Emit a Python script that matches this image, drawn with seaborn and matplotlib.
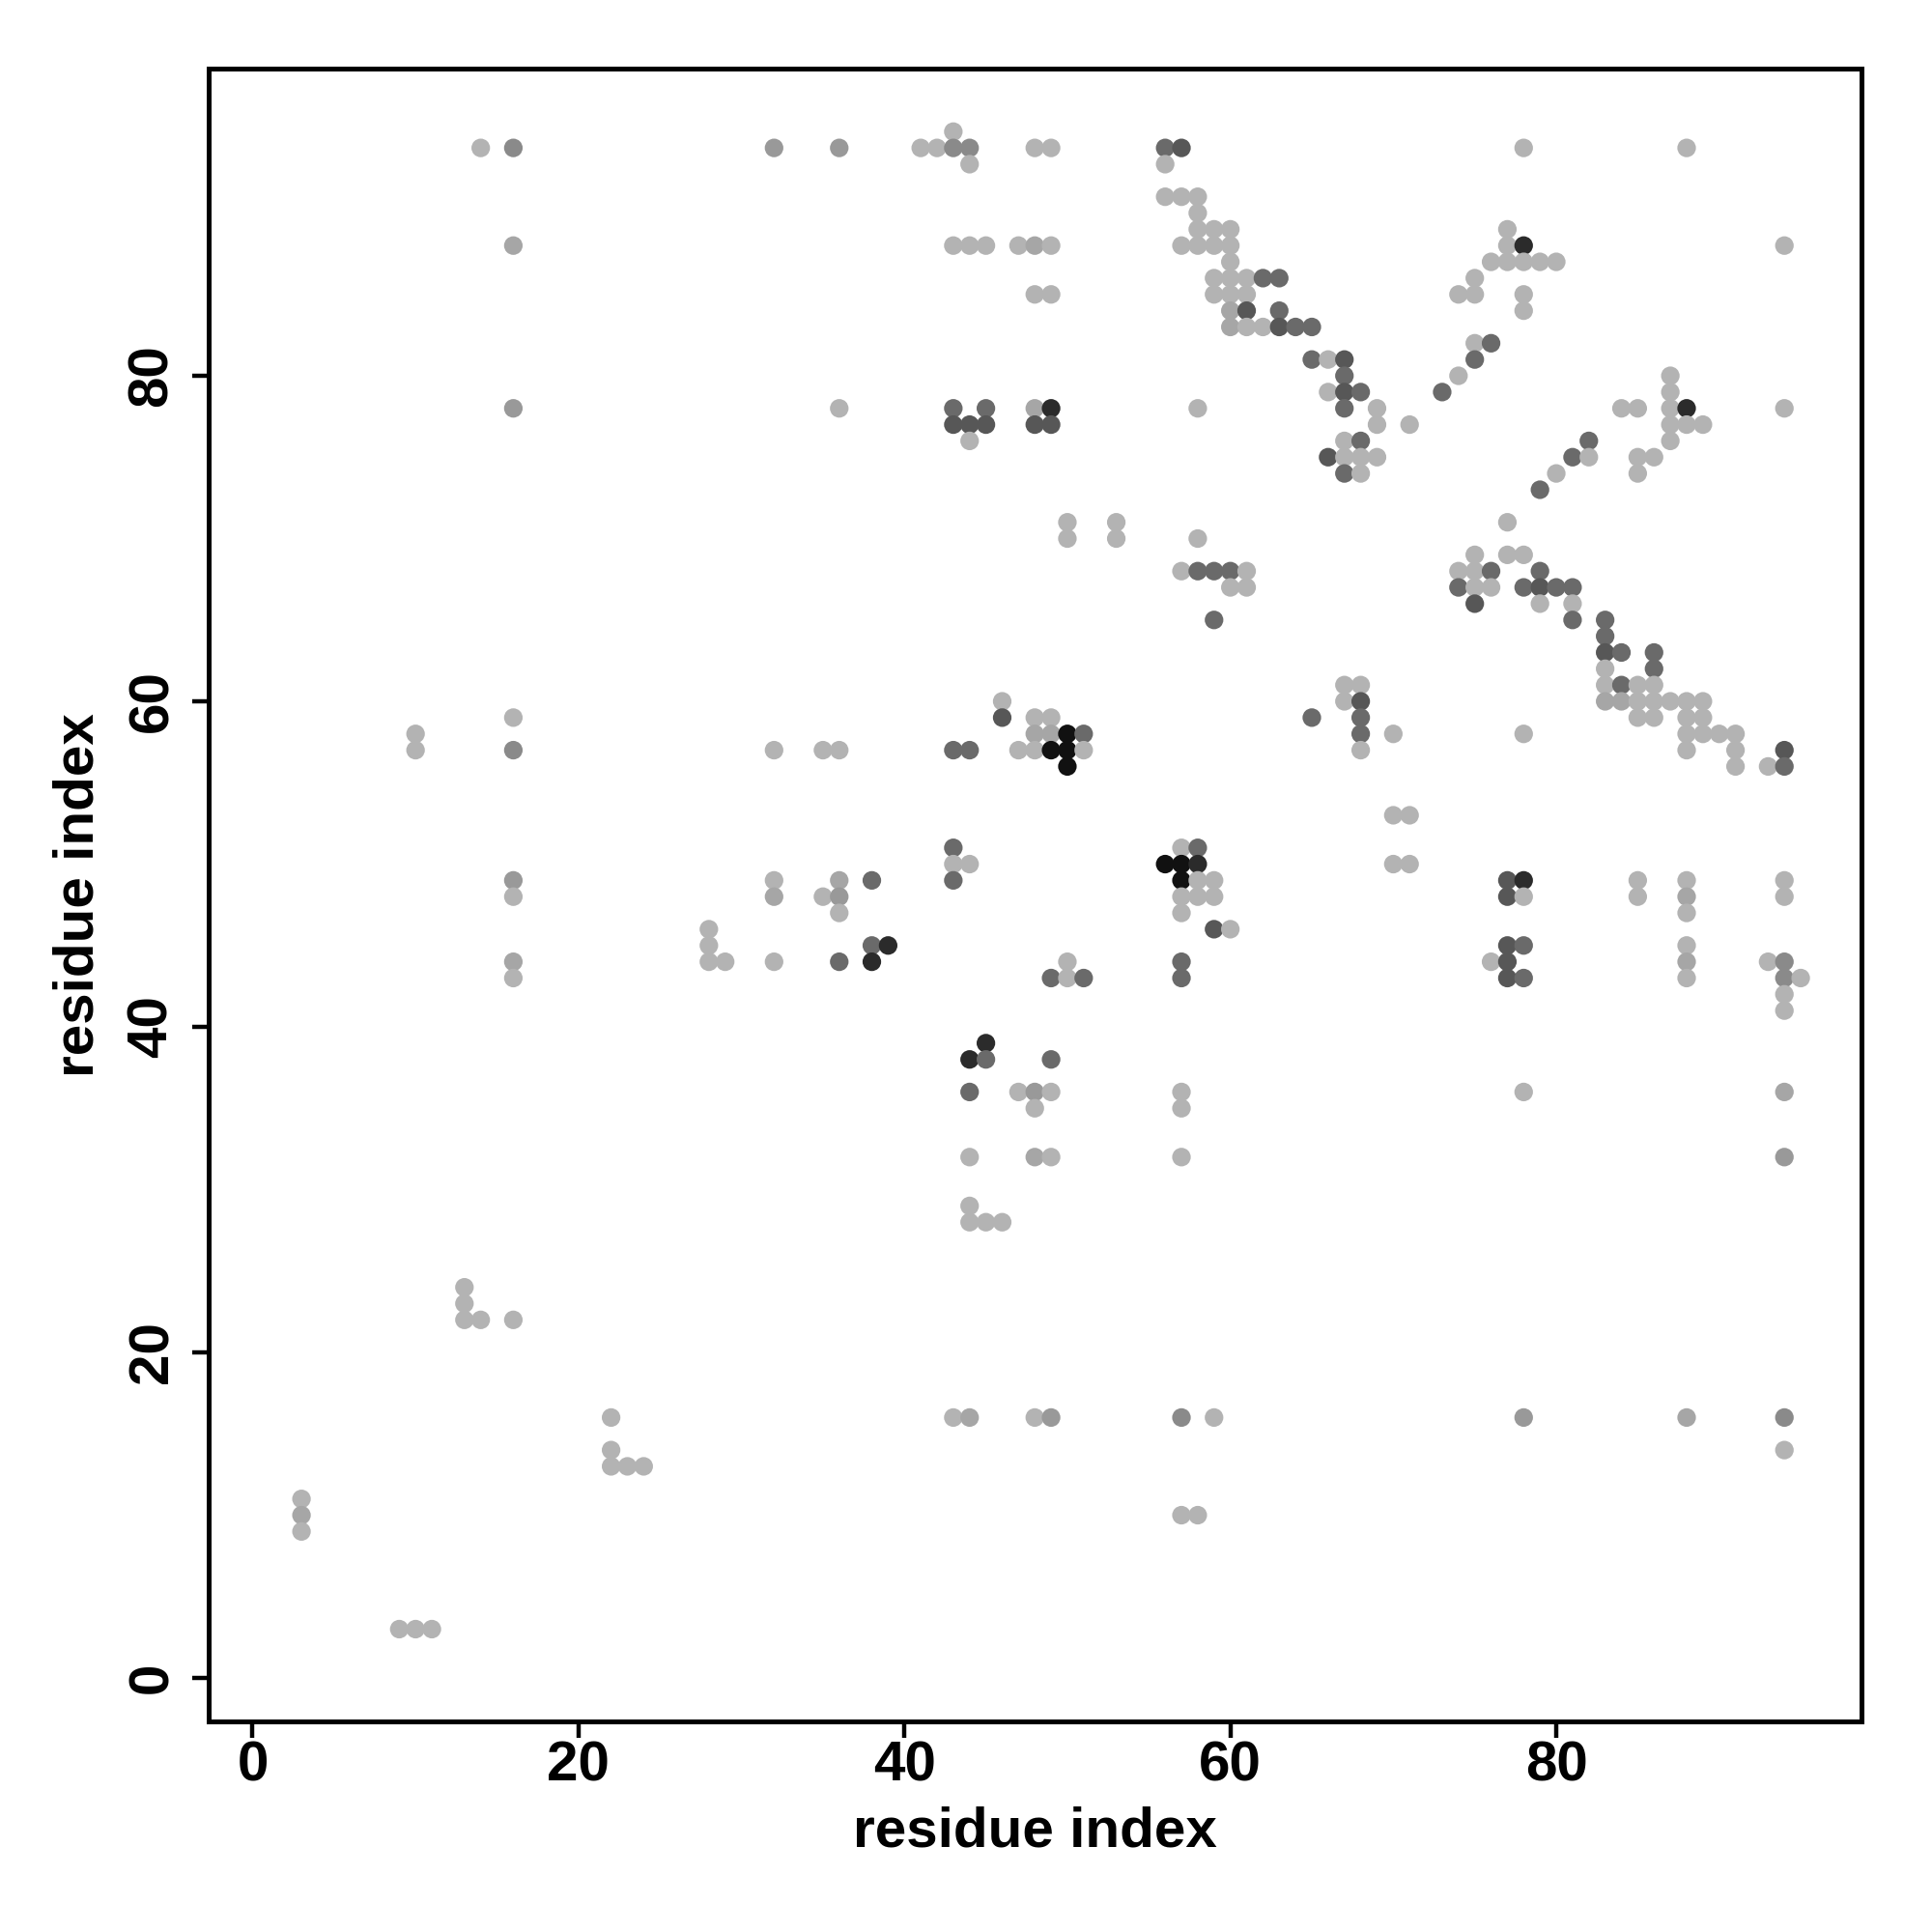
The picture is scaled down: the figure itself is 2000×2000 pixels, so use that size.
import numpy as np
import pandas as pd
import matplotlib
matplotlib.use('Agg')
import matplotlib.pyplot as plt
import seaborn as sns

# residue contacts: one line per row (j), same order in the three lists
res_i = [
    43,
    14, 16, 32, 36, 41, 42, 43, 44, 48, 49, 56, 57, 78, 88,
    44, 56,
    56, 57, 58,
    58,
    58, 59, 60, 77,
    16, 43, 44, 45, 47, 48, 49, 57, 58, 59, 60, 77, 78, 94,
    60, 76, 77, 78, 79, 80,
    59, 60, 61, 62, 63, 75,
    48, 49, 59, 60, 61, 74, 75, 78,
    60, 61, 63, 78,
    60, 61, 62, 63, 64, 65,
    75, 76,
    65, 66, 67, 75,
    67, 74, 87,
    66, 67, 68, 73, 87,
    16, 36, 43, 45, 48, 49, 58, 67, 69, 84, 85, 87, 88, 94,
    43, 44, 45, 48, 49, 69, 71, 87, 88, 89,
    44, 67, 68, 82, 87,
    66, 67, 68, 69, 81, 82, 85, 86,
    67, 68, 80, 85,
    79,
    50, 53, 77,
    50, 53, 58,
    75, 77, 78,
    57, 58, 59, 60, 61, 74, 75, 76, 79,
    60, 61, 74, 75, 76, 78, 79, 80, 81,
    75, 79, 81,
    59, 81, 83,
    83,
    83, 84, 86,
    83, 86,
    67, 68, 83, 84, 85, 86,
    46, 67, 68, 83, 84, 85, 86, 87, 88, 89,
    16, 46, 48, 49, 65, 68, 85, 86, 88, 89,
    10, 48, 49, 50, 51, 68, 70, 78, 88, 89, 90, 91,
    10, 16, 32, 35, 36, 43, 44, 47, 48, 49, 50, 51, 68, 88, 91, 94,
    50, 91, 93, 94,
    70, 71,
    43, 57, 58,
    43, 44, 56, 57, 58, 70, 71,
    16, 32, 36, 38, 43, 57, 58, 59, 77, 78, 85, 88, 94,
    16, 32, 35, 36, 57, 58, 59, 77, 78, 85, 88, 94,
    36, 57, 88,
    28, 59, 60,
    28, 38, 39, 77, 78, 88,
    16, 28, 29, 32, 36, 38, 50, 57, 76, 77, 88, 93, 94,
    16, 49, 50, 51, 57, 77, 78, 88, 94, 95,
    94,
    94,
    45,
    44, 45, 49,
    44, 47, 48, 49, 57, 78, 94,
    48, 57,
    44, 48, 49, 57, 94,
    44,
    44, 45, 46,
    13,
    13,
    13, 14, 16,
    22, 43, 44, 48, 49, 57, 59, 78, 88, 94,
    22, 94,
    22, 23, 24,
    3,
    3, 57, 58,
    3,
    9, 10, 11,
]

res_j = [
    95,
    94, 94, 94, 94, 94, 94, 94, 94, 94, 94, 94, 94, 94, 94,
    93, 93,
    91, 91, 91,
    90,
    89, 89, 89, 89,
    88, 88, 88, 88, 88, 88, 88, 88, 88, 88, 88, 88, 88, 88,
    87, 87, 87, 87, 87, 87,
    86, 86, 86, 86, 86, 86,
    85, 85, 85, 85, 85, 85, 85, 85,
    84, 84, 84, 84,
    83, 83, 83, 83, 83, 83,
    82, 82,
    81, 81, 81, 81,
    80, 80, 80,
    79, 79, 79, 79, 79,
    78, 78, 78, 78, 78, 78, 78, 78, 78, 78, 78, 78, 78, 78,
    77, 77, 77, 77, 77, 77, 77, 77, 77, 77,
    76, 76, 76, 76, 76,
    75, 75, 75, 75, 75, 75, 75, 75,
    74, 74, 74, 74,
    73,
    71, 71, 71,
    70, 70, 70,
    69, 69, 69,
    68, 68, 68, 68, 68, 68, 68, 68, 68,
    67, 67, 67, 67, 67, 67, 67, 67, 67,
    66, 66, 66,
    65, 65, 65,
    64,
    63, 63, 63,
    62, 62,
    61, 61, 61, 61, 61, 61,
    60, 60, 60, 60, 60, 60, 60, 60, 60, 60,
    59, 59, 59, 59, 59, 59, 59, 59, 59, 59,
    58, 58, 58, 58, 58, 58, 58, 58, 58, 58, 58, 58,
    57, 57, 57, 57, 57, 57, 57, 57, 57, 57, 57, 57, 57, 57, 57, 57,
    56, 56, 56, 56,
    53, 53,
    51, 51, 51,
    50, 50, 50, 50, 50, 50, 50,
    49, 49, 49, 49, 49, 49, 49, 49, 49, 49, 49, 49, 49,
    48, 48, 48, 48, 48, 48, 48, 48, 48, 48, 48, 48,
    47, 47, 47,
    46, 46, 46,
    45, 45, 45, 45, 45, 45,
    44, 44, 44, 44, 44, 44, 44, 44, 44, 44, 44, 44, 44,
    43, 43, 43, 43, 43, 43, 43, 43, 43, 43,
    42,
    41,
    39,
    38, 38, 38,
    36, 36, 36, 36, 36, 36, 36,
    35, 35,
    32, 32, 32, 32, 32,
    29,
    28, 28, 28,
    24,
    23,
    22, 22, 22,
    16, 16, 16, 16, 16, 16, 16, 16, 16, 16,
    14, 14,
    13, 13, 13,
    11,
    10, 10, 10,
    9,
    3, 3, 3,
]

# contact strength class (1 = faint grey ... 8 = black)
shade = [
    1,
    1, 4, 3, 3, 1, 1, 4, 4, 1, 1, 5, 6, 1, 1,
    1, 1,
    1, 1, 1,
    1,
    1, 1, 1, 1,
    2, 1, 1, 1, 1, 2, 1, 1, 1, 1, 1, 1, 7, 1,
    1, 1, 1, 1, 1, 1,
    1, 1, 1, 5, 5, 1,
    1, 1, 1, 1, 1, 1, 1, 1,
    2, 6, 5, 1,
    2, 1, 1, 6, 5, 5,
    1, 5,
    5, 1, 6, 5,
    5, 1, 1,
    1, 6, 5, 5, 1,
    3, 1, 5, 5, 2, 7, 1, 5, 1, 1, 1, 1, 7, 1,
    6, 6, 6, 6, 6, 1, 1, 1, 1, 1,
    1, 1, 5, 5, 1,
    6, 1, 1, 1, 5, 1, 1, 1,
    5, 1, 1, 1,
    5,
    1, 1, 1,
    1, 1, 1,
    1, 1, 1,
    1, 5, 5, 5, 1, 1, 1, 5, 5,
    1, 1, 5, 1, 1, 5, 6, 5, 5,
    6, 1, 1,
    5, 5, 5,
    5,
    6, 5, 5,
    1, 5,
    1, 1, 1, 5, 1, 1,
    1, 1, 6, 2, 2, 1, 1, 1, 1, 1,
    1, 6, 1, 1, 5, 5, 1, 1, 1, 1,
    1, 2, 2, 8, 5, 5, 1, 1, 1, 1, 1, 1,
    1, 4, 1, 1, 1, 5, 5, 1, 1, 8, 8, 1, 1, 1, 1, 6,
    8, 1, 1, 5,
    1, 1,
    5, 1, 5,
    1, 1, 8, 8, 7, 1, 1,
    3, 1, 2, 5, 5, 8, 1, 1, 6, 7, 1, 1, 1,
    1, 2, 1, 3, 1, 1, 1, 6, 1, 1, 2, 1,
    1, 1, 1,
    1, 6, 1,
    1, 5, 7, 6, 5, 1,
    2, 1, 1, 1, 5, 7, 1, 5, 1, 6, 2, 1, 4,
    1, 5, 1, 5, 5, 6, 5, 1, 4, 1,
    1,
    1,
    7,
    7, 5, 5,
    5, 1, 3, 1, 1, 1, 2,
    1, 1,
    1, 2, 1, 1, 3,
    1,
    1, 1, 1,
    1,
    1,
    1, 1, 1,
    1, 1, 2, 1, 3, 4, 1, 3, 2, 4,
    1, 1,
    1, 1, 1,
    1,
    2, 1, 1,
    1,
    1, 1, 1,
]

shade_colors = {1: '#b3b3b3', 2: '#a6a6a6', 3: '#999999', 4: '#8a8a8a',
                5: '#6a6a6a', 6: '#575757', 7: '#2b2b2b', 8: '#111111'}

tick_values = [0, 20, 40, 60, 80]

df = pd.DataFrame({'i': res_i, 'j': res_j, 'shade': shade})

sns.set_theme(style='white')
plt.rcParams['font.family'] = ['Liberation Sans', 'DejaVu Sans']
plt.rcParams['font.weight'] = 'bold'

fig = plt.figure(figsize=(10, 10), dpi=200)
ax = fig.add_axes([0.1078, 0.109, 0.8557, 0.8553])

sns.scatterplot(data=df, x='i', y='j', hue='shade', palette=shade_colors,
                s=48, linewidth=0, legend=False, ax=ax)

ax.set_xlim(-2.72, 98.73)
ax.set_ylim(-2.67, 98.85)
ax.set_xticks(tick_values)
ax.set_yticks(tick_values)
ax.set_xticklabels([str(t) for t in tick_values])
ax.set_yticklabels([str(t) for t in tick_values])

for side in ['top', 'bottom', 'left', 'right']:
    ax.spines[side].set_visible(True)
    ax.spines[side].set_color('black')
    ax.spines[side].set_linewidth(1.8)

ax.tick_params(axis='both', direction='out', length=6, width=1.6, color='black',
               labelsize=21, labelcolor='black', bottom=True, left=True)
ax.tick_params(axis='x', pad=1)
ax.tick_params(axis='y', pad=5, labelrotation=90)
for lbl in ax.get_yticklabels():
    lbl.set_verticalalignment('center')
    lbl.set_fontweight('bold')
for lbl in ax.get_xticklabels():
    lbl.set_fontweight('bold')

ax.set_xlabel('residue index', fontsize=21, fontweight='bold', color='black', labelpad=5)
ax.set_ylabel('residue index', fontsize=21, fontweight='bold', color='black', labelpad=8)

fig.savefig('out.png', dpi=200, facecolor='white')
